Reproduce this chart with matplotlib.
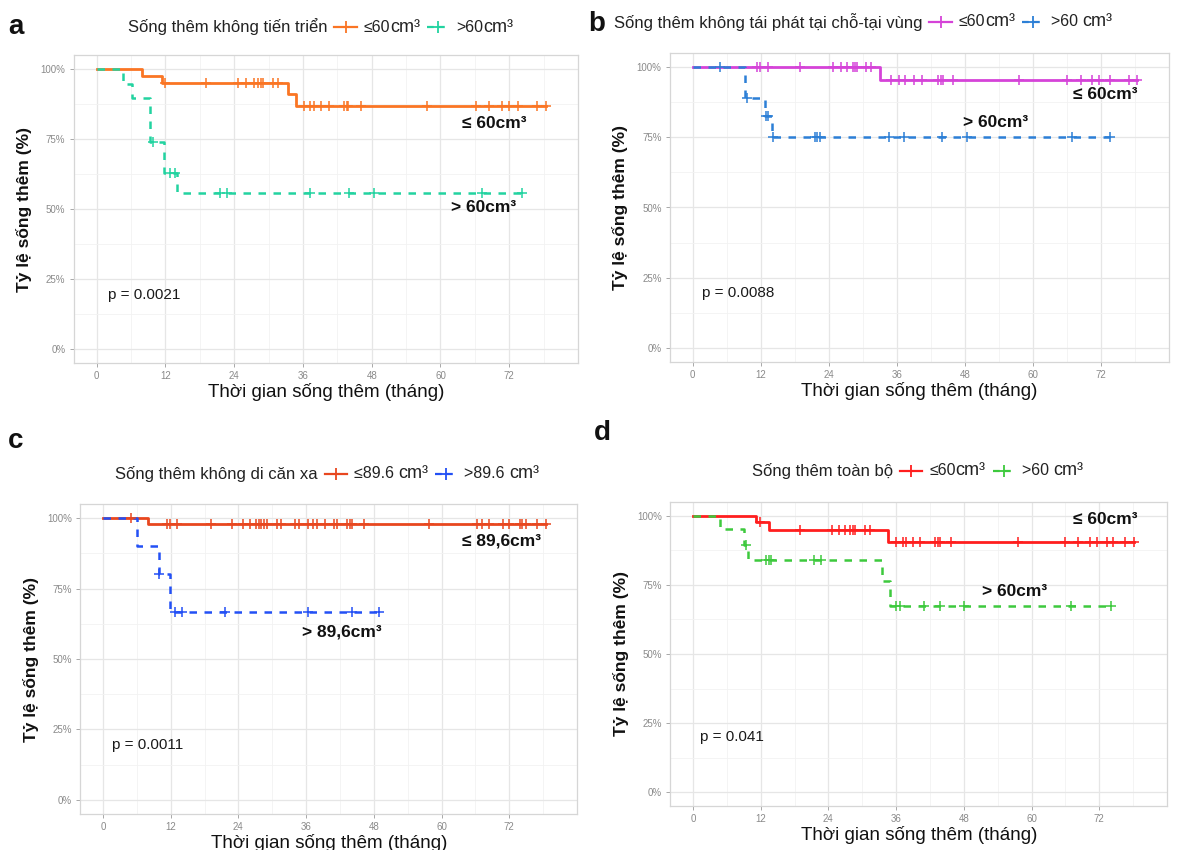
import numpy as np
import matplotlib
matplotlib.use("Agg")
import matplotlib.pyplot as plt
from matplotlib.lines import Line2D
from matplotlib.offsetbox import TextArea, DrawingArea, HPacker, AnchoredOffsetbox

NARROW = ['Liberation Sans Narrow', 'Liberation Sans', 'DejaVu Sans']
REG = ['Liberation Sans', 'DejaVu Sans']
plt.rcParams['font.family'] = NARROW

# ---------------- data ----------------
# Panel a: progression-free survival
a_le_t = [0, 7.9, 11.4, 33.4, 34.7]
a_le_s = [100, 97.6, 94.9, 90.9, 86.8]
a_le_end = 78.4
a_le_cens = [12.0, 19.1, 24.7, 26.1, 27.4, 28.2, 28.6, 29.0, 30.8, 31.6, 36.2, 37.3,
             37.9, 39.1, 40.5, 43.1, 43.6, 43.9, 46.1, 57.7, 66.2, 68.5, 70.7, 72.0,
             73.5, 76.9, 78.4]
a_gt_t = [0, 4.6, 6.1, 9.3, 11.7, 14.0]
a_gt_s = [100, 94.5, 89.5, 74.0, 62.7, 55.6]
a_gt_end = 74.3
a_gt_cens = [9.9, 12.8, 13.6, 21.6, 22.7, 37.2, 44.0, 48.4, 67.3, 74.3]

# Panel b: locoregional recurrence-free survival
b_le_t = [0, 33.1]
b_le_s = [100, 95.4]
b_le_end = 78.3
b_le_cens = [11.3, 11.8, 13.3, 19.0, 24.7, 26.1, 27.3, 28.2, 28.6, 29.0, 30.5, 31.4,
             34.9, 36.3, 37.5, 39.1, 40.4, 43.3, 43.8, 44.2, 45.9, 57.6, 66.1, 68.4,
             70.4, 71.7, 73.6, 76.9, 78.3]
b_gt_t = [0, 9.2, 12.8, 14.0]
b_gt_s = [100, 88.9, 82.5, 75.0]
b_gt_end = 73.6
b_gt_cens = [4.8, 9.5, 12.9, 13.3, 14.2, 21.5, 22.0, 22.5, 34.6, 37.2, 43.9, 48.3,
             66.9, 73.6]

# Panel c: distant metastasis-free survival
c_le_t = [0, 8.0]
c_le_s = [100, 97.9]
c_le_end = 78.5
c_le_cens = [4.9, 11.4, 11.9, 13.1, 19.1, 22.8, 24.9, 26.1, 27.2, 27.6, 28.0, 28.5,
             29.1, 30.8, 31.5, 34.1, 34.7, 36.4, 37.3, 37.9, 39.3, 40.9, 41.4, 43.3,
             43.7, 44.1, 46.2, 57.8, 66.3, 67.2, 68.4, 70.8, 71.9, 73.9, 74.3, 74.9,
             77.0, 78.5]
c_gt_t = [0, 6.0, 9.9, 11.9]
c_gt_s = [100, 90.0, 80.0, 66.8]
c_gt_end = 48.9
c_gt_cens = [10.0, 12.8, 14.0, 21.7, 36.4, 44.1, 48.9]

# Panel d: overall survival
d_le_t = [0, 11.2, 13.4, 34.5]
d_le_s = [100, 97.6, 94.7, 90.7]
d_le_end = 78.2
d_le_cens = [11.9, 19.0, 24.6, 25.9, 27.0, 27.9, 28.3, 28.8, 30.5, 31.3, 35.9, 37.2,
             37.8, 39.0, 40.3, 42.9, 43.4, 43.8, 45.7, 57.6, 65.9, 68.2, 70.4, 71.6,
             73.4, 74.5, 76.5, 78.2]
d_gt_t = [0, 4.8, 9.0, 9.8, 33.5, 35.0]
d_gt_s = [100, 95.2, 89.6, 84.1, 76.3, 67.2]
d_gt_end = 74.0
d_gt_cens = [9.4, 12.9, 13.4, 13.8, 21.4, 22.6, 35.9, 36.7, 41.0, 43.8, 48.0, 67.0, 74.0]

x_ticks = [0, 12, 24, 36, 48, 60, 72]
y_ticks = [0, 25, 50, 75, 100]
y_tick_labels = ['0%', '25%', '50%', '75%', '100%']

panels = [
    dict(letter='a', title='Sống thêm không tiến triển',
         leg=[('≤60', 'cm³'), ('>60', 'cm³')],
         series=[(a_le_t, a_le_s, a_le_end, a_le_cens, '#FA7524', '-'),
                 (a_gt_t, a_gt_s, a_gt_end, a_gt_cens, '#22D3A0', '--')],
         notes=[('≤ 60cm³', 63.8, 80.4), ('> 60cm³', 61.8, 50.7)],
         p=('p = 0.0021', 1.9, 19.3),
         rect=(73.8, 55, 578, 363), zero=96.7,
         letter_pos=(8, 27), leg_pos=(128, 27)),
    dict(letter='b', title='Sống thêm không tái phát tại chỗ-tại vùng',
         leg=[('≤60', 'cm³'), ('>60 ', 'cm³')],
         series=[(b_le_t, b_le_s, b_le_end, b_le_cens, '#D543D8', '-'),
                 (b_gt_t, b_gt_s, b_gt_end, b_gt_cens, '#2C7FD6', '--')],
         notes=[('≤ 60cm³', 67.0, 90.4), ('> 60cm³', 47.6, 80.4)],
         p=('p = 0.0088', 1.6, 19.6),
         rect=(670, 53, 1169, 362), zero=693,
         letter_pos=(588, 24), leg_pos=(614, 22)),
    dict(letter='c', title='Sống thêm không di căn xa',
         leg=[('≤89.6 ', 'cm³'), ('>89.6 ', 'cm³')],
         series=[(c_le_t, c_le_s, c_le_end, c_le_cens, '#E8471F', '-'),
                 (c_gt_t, c_gt_s, c_gt_end, c_gt_cens, '#2350F5', '--')],
         notes=[('≤ 89,6cm³', 63.7, 91.8), ('> 89,6cm³', 35.3, 59.6)],
         p=('p = 0.0011', 1.6, 19.5),
         rect=(80.4, 504, 577, 814), zero=103,
         letter_pos=(8, 441), leg_pos=(115, 474)),
    dict(letter='d', title='Sống thêm toàn bộ',
         leg=[('≤60', 'cm³'), ('>60 ', 'cm³')],
         series=[(d_le_t, d_le_s, d_le_end, d_le_cens, '#FF1E1E', '-'),
                 (d_gt_t, d_gt_s, d_gt_end, d_gt_cens, '#3DC93D', '--')],
         notes=[('≤ 60cm³', 67.4, 98.6), ('> 60cm³', 51.2, 72.5)],
         p=('p = 0.041', 1.2, 20.0),
         rect=(670.4, 502, 1167, 806), zero=693,
         letter_pos=(594, 433), leg_pos=(752, 471)),
]

W, H = 1180, 850
fig = plt.figure(figsize=(W / 100, H / 100), dpi=100)
fig.patch.set_facecolor('white')


def legend_key(color, ls):
    da = DrawingArea(18, 12, 0, 0)
    da.add_artist(Line2D([1, 17], [6, 6], color=color, lw=1.6, ls=ls,
                         dashes=(3, 2) if ls == '--' else (None, None)))
    da.add_artist(Line2D([9], [6], color=color, marker='+', ms=8, mew=1.3))
    return da


for P in panels:
    l, t, r, b = P['rect']
    ax = fig.add_axes([l / W, 1 - b / H, (r - l) / W, (b - t) / H])
    ax.set_xlim(-4, 84)
    ax.set_ylim(-5, 105)
    ax.set_xticks(x_ticks)
    ax.set_xticks([6, 18, 30, 42, 54, 66, 78], minor=True)
    ax.set_yticks(y_ticks)
    ax.set_yticklabels(y_tick_labels)
    ax.set_yticks([12.5, 37.5, 62.5, 87.5], minor=True)
    ax.grid(True, which='major', color='#E6E6E6', lw=0.9)
    ax.grid(True, which='minor', color='#F2F2F2', lw=0.6)
    ax.set_axisbelow(True)
    for sp in ax.spines.values():
        sp.set_color('#D6D6D6')
        sp.set_linewidth(0.9)
    ax.tick_params(which='major', length=3, width=0.6, color='#9A9A9A',
                   labelcolor='#8A8A8A', labelsize=7, pad=3)
    ax.tick_params(which='minor', length=0)

    for (tt, ss, end, cens, col, ls) in P['series']:
        xs = list(tt) + [end]
        ys = list(ss) + [ss[-1]]
        ax.step(xs, ys, where='post', color=col, lw=2.0 if ls == '-' else 1.8,
                ls=ls, dashes=(3, 3) if ls == '--' else (None, None), zorder=3)
        idx = np.searchsorted(np.array(tt), np.array(cens), side='right') - 1
        cy = np.array(ss)[idx]
        ax.plot(cens, cy, ls='none', marker='+', ms=7, mew=1.1, color=col, zorder=4)

    for txt, nx, ny in P['notes']:
        ax.text(nx, ny, txt, fontsize=12.5, fontweight='bold', va='center', ha='left',
                color='#111111', family=NARROW)
    pt, px, py = P['p']
    ax.text(px, py, pt, fontsize=11, va='center', ha='left', color='#1a1a1a',
            family=NARROW)

    ax.set_xlabel('Thời gian sống thêm (tháng)', fontsize=13.5, color='#111111',
                  labelpad=1, family=NARROW)
    ax.set_ylabel('Tỷ lệ sống thêm (%)', fontsize=12.5, fontweight='bold',
                  color='#111111', labelpad=6, family=NARROW)

    # panel letter
    lx, ly = P['letter_pos']
    fig.text(lx / W, 1 - ly / H, P['letter'], fontsize=20, fontweight='bold',
             va='center', ha='left', family=NARROW, color='#111111')

    # legend
    items = [TextArea(P['title'], textprops=dict(fontsize=12, family=NARROW,
                                                 color='#222222'))]
    for (lab, unit), (tt, ss, end, cens, col, ls) in zip(P['leg'], P['series']):
        items.append(legend_key(col, ls))
        items.append(HPacker(children=[
            TextArea(lab, textprops=dict(fontsize=11.5, family=NARROW, color='#222222')),
            TextArea(unit, textprops=dict(fontsize=13, family=REG, color='#222222'))],
            align='baseline', pad=0, sep=0))
    box = HPacker(children=items, align='center', pad=0, sep=4)
    gx, gy = P['leg_pos']
    anch = AnchoredOffsetbox(loc='center left', child=box, pad=0, frameon=False,
                             bbox_to_anchor=(gx / W, 1 - gy / H),
                             bbox_transform=fig.transFigure, borderpad=0)
    fig.add_artist(anch)

fig.savefig('out.png', dpi=100, facecolor='white')
